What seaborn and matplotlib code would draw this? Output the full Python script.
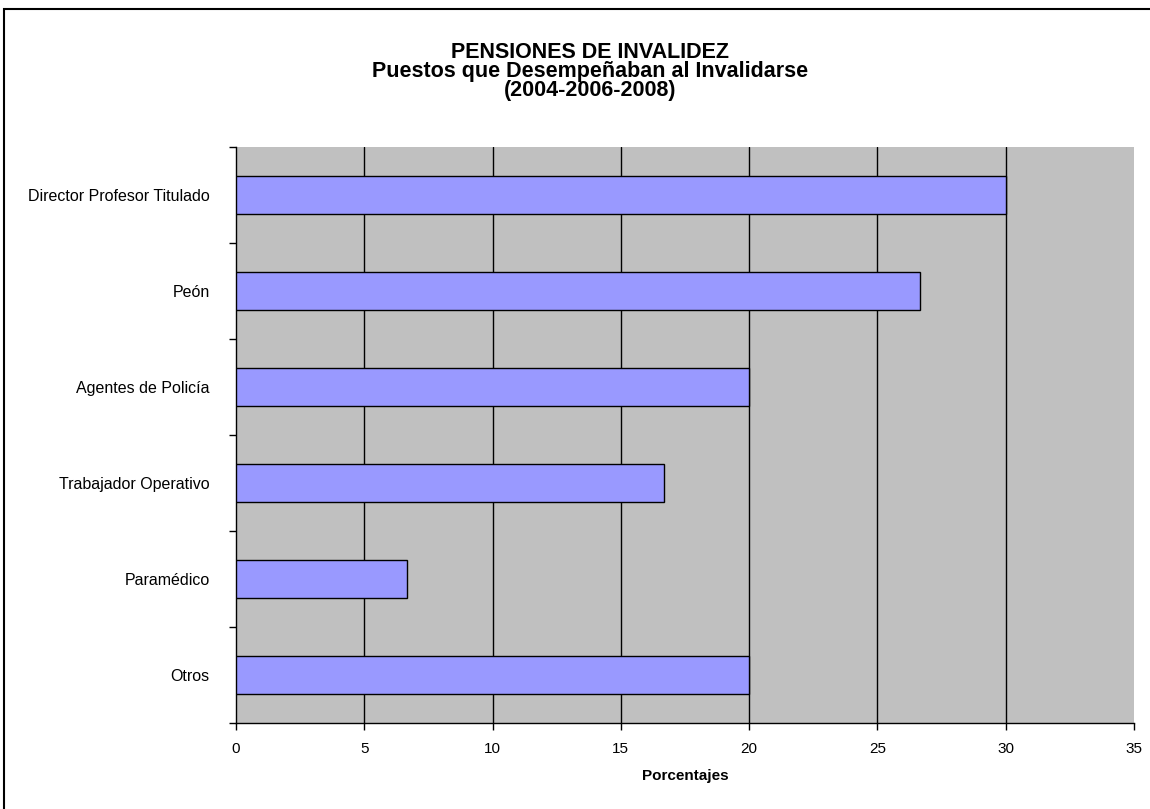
import seaborn as sns
import matplotlib.pyplot as plt
import pandas as pd
from matplotlib.patches import Rectangle

# data
puestos = ['Director Profesor Titulado', 'Peón', 'Agentes de Policía',
           'Trabajador Operativo', 'Paramédico', 'Otros']
porcentajes = [30.0, 26.67, 20.0, 16.67, 6.67, 20.0]
xticks = [0, 5, 10, 15, 20, 25, 30, 35]

df = pd.DataFrame({'puesto': puestos, 'pct': porcentajes})

sns.set_style('white')
plt.rcParams['font.family'] = ['Liberation Sans', 'DejaVu Sans']
plt.rcParams['text.color'] = 'black'
plt.rcParams['axes.labelcolor'] = 'black'
plt.rcParams['xtick.color'] = 'black'
plt.rcParams['ytick.color'] = 'black'

fig = plt.figure(figsize=(11.5, 8.09), dpi=100)
ax = fig.add_axes([236/1150, 1-723/809, (1134-236)/1150, (723-147)/809])
ax.set_facecolor('#C0C0C0')

sns.barplot(data=df, x='pct', y='puesto', orient='h', color='#9999FF',
            saturation=1, width=0.4, edgecolor='black', linewidth=1, ax=ax, zorder=3)

ax.set_xlim(0, 35)
ax.set_ylim(len(puestos) - 0.5, -0.5)
ax.set_xticks(xticks)
ax.set_xticklabels([str(t) for t in xticks], fontsize=11)
for t in xticks[1:-1]:
    ax.axvline(t, color='black', lw=1, zorder=1)

# category labels without tick marks, ticks at the boundaries
ax.set_yticks(range(len(puestos)))
ax.set_yticklabels(puestos, fontsize=11.5)
ax.tick_params(axis='y', which='major', length=0, pad=19)
ax.set_yticks([i - 0.5 for i in range(len(puestos) + 1)], minor=True)
ax.tick_params(axis='y', which='minor', length=5, width=1, color='black', direction='out', left=True)
ax.tick_params(axis='x', length=5, width=1, color='black', direction='out', bottom=True, pad=9)

ax.set_ylabel('')
ax.set_xlabel('Porcentajes', fontsize=11, fontweight='bold', labelpad=9)

for s in ['top', 'right']:
    ax.spines[s].set_visible(False)
for s in ['left', 'bottom']:
    ax.spines[s].set_color('black')
    ax.spines[s].set_linewidth(1)

titulo = ['PENSIONES DE INVALIDEZ', 'Puestos que Desempeñaban al Invalidarse', '(2004-2006-2008)']
for linea, yb in zip(titulo, [58, 77, 96]):
    fig.text(590/1150, 1-yb/809, linea, ha='center', va='baseline',
             fontsize=15.5, fontweight='bold')

# outer chart border (only left and top edges are in frame)
fig.patches.append(Rectangle((3.5/1150, -0.05), 1.2, 1.05 - 9/809, transform=fig.transFigure,
                             fill=False, edgecolor='black', linewidth=1.5))

fig.savefig('out.png', dpi=100)
